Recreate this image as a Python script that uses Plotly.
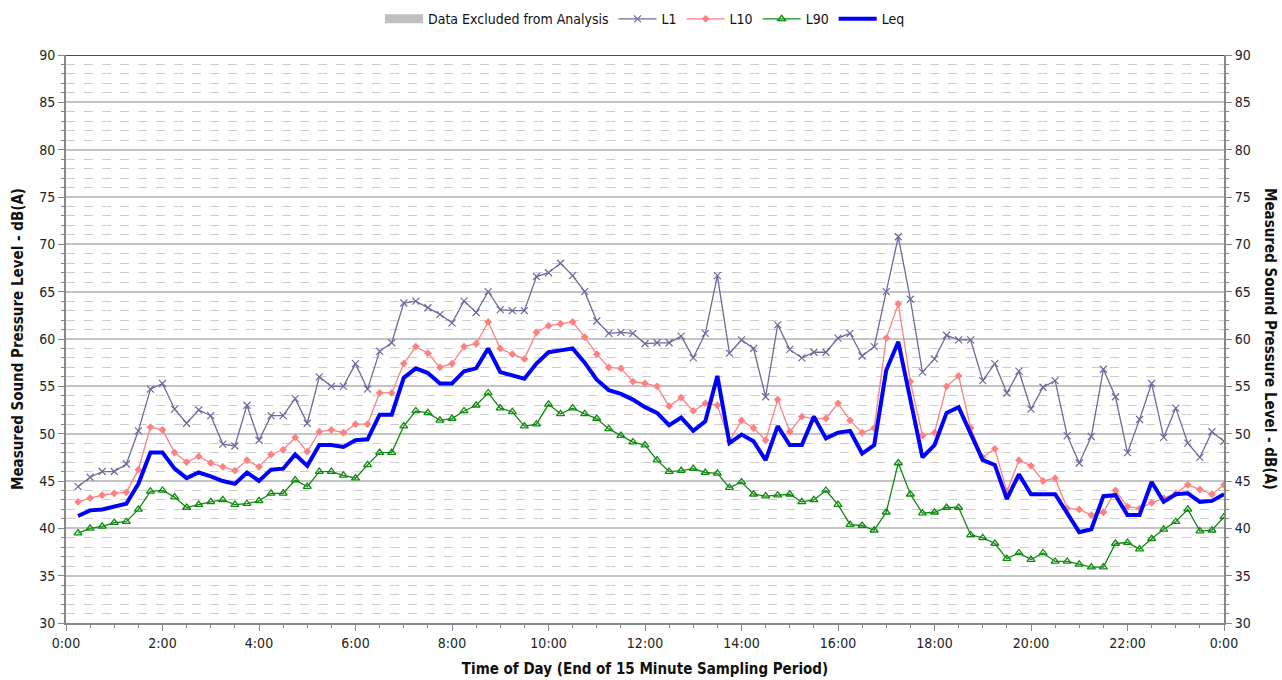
import plotly.graph_objects as go

# Time index: end of each 15-minute sampling period, in hours (0:15 .. 24:00)
hours = [0.25 * i for i in range(1, 97)]

tick_vals = [0, 2, 4, 6, 8, 10, 12, 14, 16, 18, 20, 22, 24]
tick_text = ["0:00", "2:00", "4:00", "6:00", "8:00", "10:00", "12:00",
             "14:00", "16:00", "18:00", "20:00", "22:00", "0:00"]

L1 = [44.4, 45.4, 46.0, 46.0, 46.8, 50.3, 54.7, 55.3, 52.6, 51.1, 52.5, 51.9,
      48.9, 48.7, 53.0, 49.3, 51.9, 51.9, 53.7, 51.1, 56.0, 55.0, 55.0, 57.4,
      54.7, 58.7, 59.6, 63.8, 64.0, 63.3, 62.6, 61.7, 64.0, 62.8, 65.0, 63.1,
      63.0, 63.0, 66.6, 67.0, 68.0, 66.7, 65.0, 61.9, 60.6, 60.7, 60.6, 59.5,
      59.6, 59.6, 60.3, 58.0, 60.6, 66.7, 58.5, 59.9, 59.0, 53.9, 61.5, 58.9,
      58.0, 58.6, 58.6, 60.1, 60.6, 58.2, 59.2, 65.0, 70.8, 64.2, 56.5, 57.9,
      60.4, 59.9, 59.9, 55.6, 57.4, 54.3, 56.6, 52.6, 54.9, 55.6, 49.8, 46.9,
      49.7, 56.8, 53.9, 48.0, 51.5, 55.3, 49.6, 52.7, 49.0, 47.5, 50.2, 49.2]

L10 = [42.8, 43.2, 43.5, 43.7, 43.8, 46.2, 50.7, 50.4, 48.0, 47.0, 47.6, 46.9,
       46.5, 46.1, 47.2, 46.5, 47.8, 48.3, 49.6, 48.1, 50.2, 50.4, 50.1, 51.0,
       51.0, 54.3, 54.3, 57.4, 59.2, 58.5, 57.0, 57.4, 59.2, 59.5, 61.8, 59.0,
       58.4, 57.9, 60.7, 61.4, 61.6, 61.8, 60.2, 58.4, 57.0, 56.9, 55.5, 55.3,
       55.0, 52.9, 53.8, 52.4, 53.2, 53.0, 49.2, 51.4, 50.6, 49.3, 53.6, 50.2,
       51.8, 51.6, 51.6, 53.2, 51.4, 50.1, 50.6, 60.1, 63.7, 55.5, 49.8, 50.1,
       55.0, 56.1, 50.6, 47.5, 48.4, 43.9, 47.2, 46.6, 45.0, 45.3, 42.1, 42.0,
       41.4, 41.7, 44.0, 42.3, 42.1, 42.7, 43.2, 43.7, 44.6, 44.1, 43.6, 44.6]

L90 = [39.5, 40.0, 40.2, 40.6, 40.7, 42.0, 43.9, 44.0, 43.3, 42.2, 42.5, 42.8,
       43.0, 42.5, 42.6, 42.9, 43.7, 43.7, 45.1, 44.4, 46.0, 46.0, 45.6, 45.3,
       46.7, 48.0, 48.0, 50.8, 52.4, 52.2, 51.4, 51.6, 52.4, 53.0, 54.3, 52.7,
       52.3, 50.8, 51.0, 53.1, 52.1, 52.7, 52.1, 51.6, 50.5, 49.8, 49.1, 48.8,
       47.2, 46.0, 46.1, 46.3, 45.9, 45.8, 44.3, 44.9, 43.6, 43.4, 43.5, 43.6,
       42.8, 43.0, 44.0, 42.5, 40.4, 40.3, 39.8, 41.7, 46.9, 43.6, 41.6, 41.7,
       42.2, 42.2, 39.3, 39.0, 38.4, 36.8, 37.4, 36.7, 37.4, 36.5, 36.5, 36.2,
       35.9, 35.9, 38.4, 38.5, 37.8, 38.9, 39.9, 40.7, 42.0, 39.7, 39.8, 41.2]

Leq = [41.3, 41.9, 42.0, 42.3, 42.6, 44.7, 48.0, 48.0, 46.3, 45.3, 45.9, 45.5,
       45.0, 44.7, 45.9, 45.0, 46.2, 46.3, 47.8, 46.6, 48.8, 48.8, 48.6, 49.3,
       49.4, 52.0, 52.0, 55.9, 56.9, 56.4, 55.3, 55.3, 56.6, 56.9, 59.0, 56.5,
       56.2, 55.8, 57.4, 58.6, 58.8, 59.0, 57.5, 55.7, 54.6, 54.2, 53.6, 52.8,
       52.2, 50.9, 51.7, 50.3, 51.3, 56.1, 49.0, 49.9, 49.2, 47.2, 50.8, 48.8,
       48.8, 51.8, 49.5, 50.1, 50.3, 47.9, 48.8, 56.7, 59.7, 53.6, 47.5, 48.8,
       52.2, 52.8, 49.9, 47.2, 46.7, 43.1, 45.7, 43.6, 43.6, 43.6, 41.6, 39.6,
       39.9, 43.4, 43.5, 41.4, 41.4, 44.9, 42.8, 43.6, 43.7, 42.8, 42.9, 43.6]

FONT = "Liberation Sans Narrow, DejaVu Sans Condensed, Arial Narrow, sans-serif"
AXIS_TITLE = "Measured Sound Pressure Level - dB(A)"

fig = go.Figure()

fig.add_trace(go.Scatter(x=[None], y=[None], name="Data Excluded from Analysis",
                         mode="lines", line=dict(color="#C0C0C0", width=9),
                         showlegend=True, hoverinfo="skip"))
fig.add_trace(go.Scatter(x=hours, y=L1, name="L1", mode="lines+markers",
                         line=dict(color="#6B6B9E", width=1.3),
                         marker=dict(symbol="x-thin-open", size=7,
                                     line=dict(color="#6B6B9E", width=1.2))))
fig.add_trace(go.Scatter(x=hours, y=L10, name="L10", mode="lines+markers",
                         line=dict(color="#FF8080", width=1.3),
                         marker=dict(symbol="diamond", size=6, color="#FF8080")))
fig.add_trace(go.Scatter(x=hours, y=L90, name="L90", mode="lines+markers",
                         line=dict(color="#108A10", width=1.3),
                         marker=dict(symbol="triangle-up-open", size=7,
                                     color="#108A10",
                                     line=dict(color="#108A10", width=1.3))))
fig.add_trace(go.Scatter(x=hours, y=Leq, name="Leq", mode="lines",
                         line=dict(color="#0000FF", width=4)))
# invisible companion so that the secondary (right-hand) axis is drawn
fig.add_trace(go.Scatter(x=hours, y=Leq, yaxis="y2", mode="lines",
                         line=dict(color="rgba(0,0,0,0)", width=0),
                         showlegend=False, hoverinfo="skip"))

fig.update_layout(
    width=1282, height=680,
    margin=dict(l=66, r=58, t=55, b=57, autoexpand=False),
    paper_bgcolor="white", plot_bgcolor="white",
    font=dict(family=FONT, size=14, color="#222"),
    showlegend=True,
    legend=dict(orientation="h", x=0.5, xanchor="center", y=1.063,
                yanchor="middle", font=dict(size=14, color="#111"),
                traceorder="normal", itemwidth=38),
    xaxis=dict(range=[0, 24], tickvals=tick_vals, ticktext=tick_text,
               showgrid=False, zeroline=False, showline=True,
               linecolor="#888", linewidth=2, ticks="outside", ticklen=6,
               tickcolor="#888", automargin=False,
               minor=dict(dtick=0.5, ticks="outside", ticklen=3,
                          tickcolor="#888", showgrid=False),
               title=dict(text="<b>Time of Day (End of 15 Minute Sampling Period)</b>",
                          font=dict(size=15, color="#111"), standoff=14),
               tickfont=dict(size=14)),
    yaxis=dict(range=[30, 90], dtick=5, tick0=30, automargin=False,
               showgrid=True, gridcolor="#C4C4C4", gridwidth=1.5,
               zeroline=False, showline=True, linecolor="#888", linewidth=2,
               ticks="outside", ticklen=6, tickcolor="#888",
               minor=dict(dtick=1, ticks="outside", ticklen=3, tickcolor="#888",
                          showgrid=True, gridcolor="#CCCCCC", griddash="dash",
                          gridwidth=1),
               title=dict(text="<b>" + AXIS_TITLE + "</b>",
                          font=dict(size=15, color="#111"), standoff=12),
               tickfont=dict(size=14)),
    yaxis2=dict(range=[30, 90], dtick=5, tick0=30, overlaying="y", side="right",
                anchor="x", showgrid=False, zeroline=False, showline=True,
                automargin=False,
                linecolor="#888", linewidth=2, ticks="outside", ticklen=6,
                tickcolor="#888",
                minor=dict(dtick=1, ticks="outside", ticklen=3, tickcolor="#888",
                           showgrid=False),
                tickfont=dict(size=14)),
    shapes=[dict(type="line", xref="paper", x0=0, x1=1, yref="y", y0=90, y1=90,
                 line=dict(color="#111", width=1.5))],
    annotations=[dict(text="<b>" + AXIS_TITLE + "</b>", textangle=90,
                      xref="paper", x=1.0, xshift=46, xanchor="center",
                      yref="paper", y=0.5, yanchor="middle", showarrow=False,
                      font=dict(size=15, color="#111"))],
)

fig.write_html("out.html")
